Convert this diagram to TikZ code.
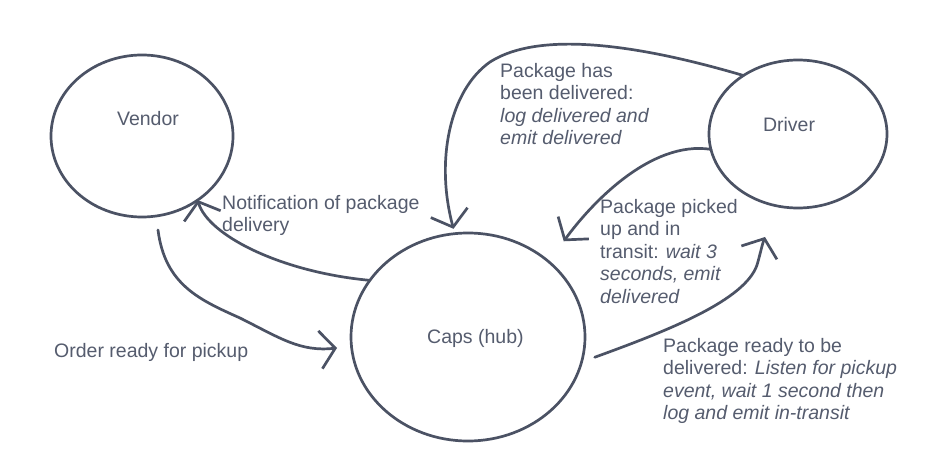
\documentclass[tikz,border=0pt]{standalone}
\usepackage{fontspec}
\setmainfont{Liberation Sans}
\usetikzlibrary{shapes.geometric,arrows.meta}
\definecolor{inkline}{HTML}{4B5264}
\definecolor{inktext}{HTML}{555C6E}
\tikzset{
  actor/.style={ellipse, draw=inkline, line width=2.7pt, inner sep=0pt, outer sep=0pt},
  flow/.style={draw=inkline, line width=2.7pt, line cap=round, line join=round,
    -{Straight Barb[length=15pt,width=38pt]}},
  note/.style={anchor=north west, align=left, inner sep=0pt, text=inktext,
    font=\fontsize{19.5}{22.5}\selectfont},
}
\begin{document}
\begin{tikzpicture}[x=1pt, y=-1pt]
            \fill [white] (0,0) rectangle (938,468);
            \useasboundingbox (0,0) rectangle (938,468);
            % the three parties
            \node [actor, minimum width=182pt, minimum height=162pt] (vendor) at (142,136) {};
            \node [actor, minimum width=234pt, minimum height=208pt] (caps) at (468,337) {};
            \node [actor, minimum width=178pt, minimum height=148pt] (driver) at (798,134) {};
            \node [note, anchor=base] (vendorlbl) at (148,126) {Vendor};
            \node [note, anchor=base west] (capslbl) at (427,343) {Caps (hub)};
            \node [note, anchor=base] (driverlbl) at (789,132) {Driver};
            % vendor and hub
            \draw [flow] ([shift={(16,13)}]vendor.south) .. controls (165,285) and (200,300) .. (240,318)
                .. controls (280,338) and (300,352) .. ([shift={(-14,11)}]caps.west);
            \draw [flow] (caps.150) .. controls (280,272) and (208,235) .. (vendor.-49);
            \node [note, anchor=base west] (order) at (54,357) {Order ready for pickup};
            \node [note] (notif) at (222,195) {Notification of package\\delivery};
            % driver and hub
            \draw [flow] (driver.133) .. controls (640,45) and (540,30) .. (490,62)
                .. controls (450,90) and (435,160) .. ([yshift=5pt]caps.98);
            \draw [flow] (driver.190) .. controls (650,140) and (590,205) .. ([shift={(18,-18)}]caps.45);
            \draw [flow] ([xshift=12pt]caps.-10) .. controls (670,330) and (745,300) .. (757,265)
                .. controls (760,255) and (762,245) .. ([shift={(-33,29)}]driver.south);
            \node [note] (delivered) at (500,63) {Package has\\been delivered:\\\textit{log delivered and}\\\textit{emit delivered}};
            \node [note] (pickedup) at (600,199) {Package picked\\up and in\\transit: \textit{wait 3}\\\textit{seconds, emit}\\\textit{delivered}};
            \node [note] (ready) at (663,338) {Package ready to be\\delivered: \textit{Listen for pickup}\\\textit{event, wait 1 second then}\\\textit{log and emit in-transit}};
        \end{tikzpicture}
\end{document}
